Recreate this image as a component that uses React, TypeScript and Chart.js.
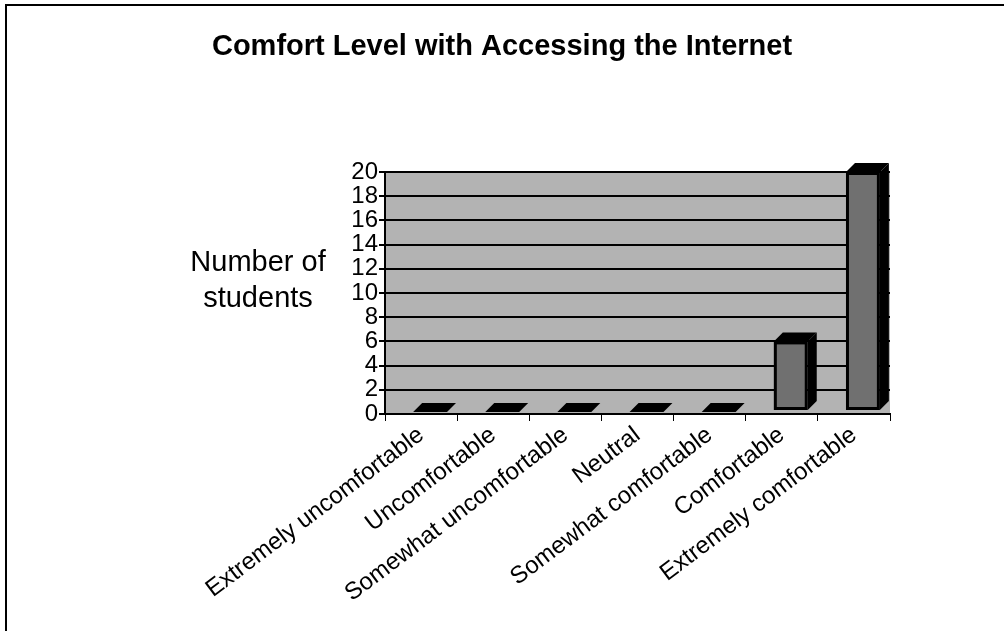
import React, { useEffect, useRef } from "react";
import { Chart, registerables } from "chart.js";

Chart.register(...registerables);

const categories = [
  "Extremely uncomfortable",
  "Uncomfortable",
  "Somewhat uncomfortable",
  "Neutral",
  "Somewhat comfortable",
  "Comfortable",
  "Extremely comfortable",
];
const students = [0, 0, 0, 0, 0, 6, 20];
const yTickStep = 2;
const yMin = 0;
const yMax = 20;
const chartTitle = "Comfort Level with Accessing the Internet";
const yLabelLines = ["Number of", "students"];

const FONT = "Arial, 'Liberation Sans', sans-serif";

const decorPlugin = {
  id: "decor",
  beforeDraw(chart: any) {
    const { ctx, chartArea } = chart;
    ctx.save();
    ctx.fillStyle = "#ffffff";
    ctx.fillRect(0, 0, chart.width, chart.height);
    ctx.strokeStyle = "#000";
    ctx.lineWidth = 2;
    ctx.beginPath();
    ctx.moveTo(6, chart.height);
    ctx.lineTo(6, 5);
    ctx.lineTo(chart.width, 5);
    ctx.stroke();
    ctx.fillStyle = "#b3b3b3";
    ctx.fillRect(chartArea.left, chartArea.top, chartArea.right - chartArea.left, chartArea.bottom - chartArea.top);
    ctx.fillStyle = "#000";
    ctx.font = `bold 29px ${FONT}`;
    ctx.textAlign = "center";
    ctx.textBaseline = "middle";
    ctx.fillText(chartTitle, 502, 47);
    ctx.font = `29px ${FONT}`;
    ctx.fillText(yLabelLines[0], 258, 263);
    ctx.fillText(yLabelLines[1], 258, 299);
    ctx.restore();
  },
  afterDatasetsDraw(chart: any) {
    const { ctx } = chart;
    const meta = chart.getDatasetMeta(0);
    const yScale = chart.scales.y;
    const base = yScale.getPixelForValue(0) - 4;
    const d = 9;
    ctx.save();
    meta.data.forEach((el: any, i: number) => {
      const v = students[i];
      const w = el.width;
      const left = el.x - w / 2 + 9;
      const right = left + w;
      ctx.fillStyle = "#000";
      if (v <= 0) {
        ctx.beginPath();
        ctx.moveTo(left, base + 2);
        ctx.lineTo(right, base + 2);
        ctx.lineTo(right + d, base + 2 - d);
        ctx.lineTo(left + d, base + 2 - d);
        ctx.closePath();
        ctx.fill();
        return;
      }
      const top = yScale.getPixelForValue(v);
      ctx.beginPath();
      ctx.moveTo(right, base);
      ctx.lineTo(right, top);
      ctx.lineTo(right + d, top - d);
      ctx.lineTo(right + d, base - d);
      ctx.closePath();
      ctx.fill();
      ctx.beginPath();
      ctx.moveTo(left, top);
      ctx.lineTo(right, top);
      ctx.lineTo(right + d, top - d);
      ctx.lineTo(left + d, top - d);
      ctx.closePath();
      ctx.fill();
      ctx.fillRect(left, top, w, base - top);
      ctx.fillStyle = "#707070";
      ctx.fillRect(left + 3, top + 3, w - 6, base - top - 6);
    });
    ctx.restore();
  },
};

export default function App() {
  const ref = useRef<HTMLCanvasElement>(null);
  useEffect(() => {
    document.body.style.margin = "0";
    const chart = new Chart(ref.current!, {
      type: "bar",
      data: {
        labels: categories,
        datasets: [
          {
            data: students,
            backgroundColor: "rgba(0,0,0,0)",
            barPercentage: 0.47,
            categoryPercentage: 1,
          },
        ],
      },
      options: {
        responsive: false,
        animation: false,
        layout: { padding: { left: 300, right: 114, top: 172, bottom: 10 } },
        plugins: { legend: { display: false }, title: { display: false }, tooltip: { enabled: false } },
        scales: {
          x: {
            grid: { display: true, drawOnChartArea: false, color: "#000", tickLength: 7, offset: true },
            border: { display: true, color: "#000", width: 2 },
            ticks: {
              color: "#000",
              font: { family: FONT, size: 24 },
              minRotation: 37,
              maxRotation: 37,
              autoSkip: false,
              padding: 0,
            },
            afterFit(scale: any) {
              scale.height = 207;
            },
          },
          y: {
            min: yMin,
            max: yMax,
            grid: { color: "#000", lineWidth: 2, tickLength: 6 },
            border: { display: true, color: "#000", width: 2 },
            ticks: {
              color: "#000",
              font: { family: FONT, size: 24 },
              padding: 1,
              stepSize: yTickStep,
              autoSkip: false,
            },
            afterFit(scale: any) {
              scale.width = 85;
            },
          },
        },
      },
      plugins: [decorPlugin],
    });
    return () => chart.destroy();
  }, []);
  return <canvas ref={ref} width={1004} height={631} style={{ display: "block" }} />;
}
